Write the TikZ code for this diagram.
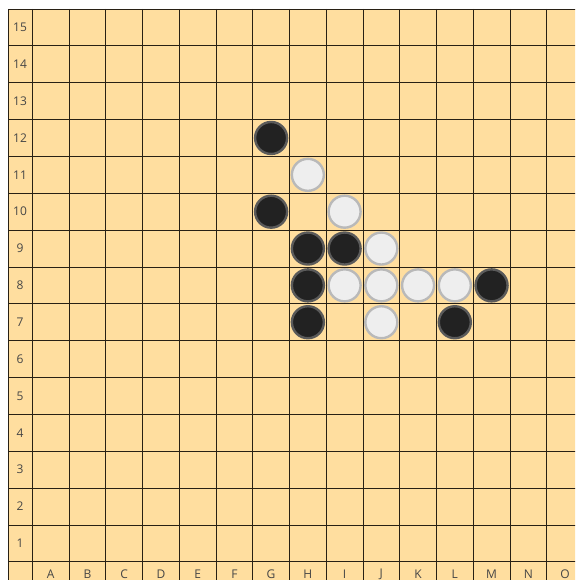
\documentclass[tikz,border=0pt]{standalone}
\usepackage{fontspec}
\setmainfont{Open Sans}
\usetikzlibrary{positioning}

\definecolor{boardbg}{RGB}{255,222,159}
\definecolor{gridline}{RGB}{40,32,20}
\definecolor{stoneblack}{RGB}{34,34,34}
\definecolor{stoneblackedge}{RGB}{90,90,90}
\definecolor{stonewhite}{RGB}{238,238,238}
\definecolor{stonewhiteedge}{RGB}{185,185,185}
\definecolor{labeltext}{RGB}{70,70,70}

\newcommand{\cellw}{36.74}
\newcommand{\cellh}{36.85}

\begin{document}
\begin{tikzpicture}[
    x=1pt, y=-1pt,
    font=\fontsize{12}{14}\selectfont,
    lbl/.style={text=labeltext, inner sep=0pt},
    gridln/.style={draw=gridline, line width=0.8pt},
    blackstone/.style={circle, draw=stoneblackedge, fill=stoneblack, line width=2.4pt, minimum size=32pt, inner sep=0pt},
    whitestone/.style={circle, draw=stonewhiteedge, fill=stonewhite, line width=2.4pt, minimum size=32pt, inner sep=0pt}
]

\useasboundingbox (0,0) rectangle (575,580);
\clip (0,0) rectangle (575,580);

% ---------- Board ----------
\fill[boardbg] (8,9) rectangle (600,600);
\draw[gridln] (8,9) -- (8,600);
\foreach \k in {0,...,15}
  \draw[gridln] ({32.3+\k*\cellw},9) -- ({32.3+\k*\cellw},600);
\foreach \k in {0,...,15}
  \draw[gridln] (8,{9+\k*\cellh}) -- (600,{9+\k*\cellh});

% ---------- Row and column labels ----------
\foreach \r in {1,...,15}
  \node[lbl] (row\r) at (20,{9+(15.5-\r)*\cellh}) {\r};
\foreach \c [count=\j] in {A,B,C,D,E,F,G,H,I,J,K,L,M,N,O}
  \node[lbl] (col\c) at ({32.3+(\j-0.5)*\cellw},574) {\c};

% ---------- Stones ----------
\foreach \c/\r in {7/12, 7/10, 8/9, 9/9, 8/8, 13/8, 8/7, 12/7}
  \node[blackstone] (b\c-\r) at ({32.3+(\c-0.5)*\cellw},{9+(15.5-\r)*\cellh}) {};
\foreach \c/\r in {8/11, 9/10, 10/9, 9/8, 10/8, 11/8, 12/8, 10/7}
  \node[whitestone] (w\c-\r) at ({32.3+(\c-0.5)*\cellw},{9+(15.5-\r)*\cellh}) {};

\end{tikzpicture}
\end{document}
